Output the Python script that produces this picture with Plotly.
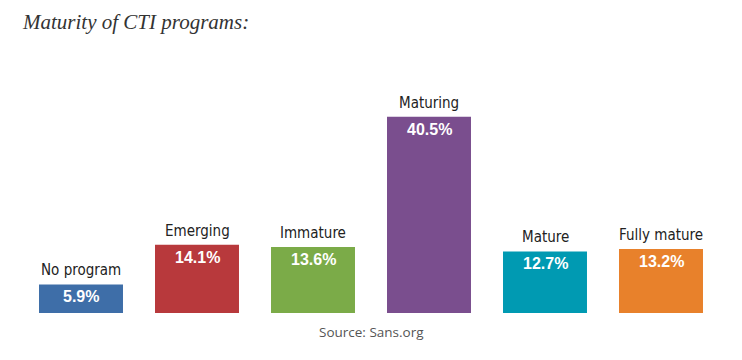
import plotly.graph_objects as go

categories = ["No program", "Emerging", "Immature", "Maturing", "Mature", "Fully mature"]
values = [5.9, 14.1, 13.6, 40.5, 12.7, 13.2]
value_labels = ["5.9%", "14.1%", "13.6%", "40.5%", "12.7%", "13.2%"]
colors = ["#3E6EA8", "#B8393C", "#7BAB48", "#7A4E8E", "#009AB2", "#E8812B"]

fig = go.Figure()
fig.add_trace(go.Bar(
    x=categories, y=values,
    marker=dict(color=colors, line=dict(width=0)),
    hoverinfo="skip",
))

for c, v, t in zip(categories, values, value_labels):
    fig.add_annotation(x=c, y=v, text=t, showarrow=False, yanchor="top", yshift=-2,
                       font=dict(family="Liberation Sans, Arial, sans-serif", size=16, color="white", weight="bold"))
    fig.add_annotation(x=c, y=v, text=c, showarrow=False, yanchor="bottom", yshift=3,
                       font=dict(family="DejaVu Sans Condensed, Liberation Sans Narrow, sans-serif", size=15, color="#222"))

fig.add_annotation(xref="paper", yref="paper", x=0.5, y=0, xanchor="center", yanchor="top",
                   yshift=-8, text="Source: Sans.org", showarrow=False,
                   font=dict(family="Open Sans, sans-serif", size=13.5, color="#555"))
fig.add_annotation(xref="paper", yref="paper", x=0, y=1, xanchor="left", yanchor="middle",
                   xshift=-3, yshift=73, text="<i>Maturity of CTI programs:</i>", showarrow=False,
                   font=dict(family="Liberation Serif, serif", size=21, color="#333"))

fig.update_layout(
    width=742, height=360,
    margin=dict(l=15, r=31, t=87, b=55),
    paper_bgcolor="white", plot_bgcolor="white",
    bargap=0.276, showlegend=False,
    xaxis=dict(visible=False, range=[-0.5, 5.5]),
    yaxis=dict(visible=False, range=[0, 45]),
)
fig.write_html("out.html")
